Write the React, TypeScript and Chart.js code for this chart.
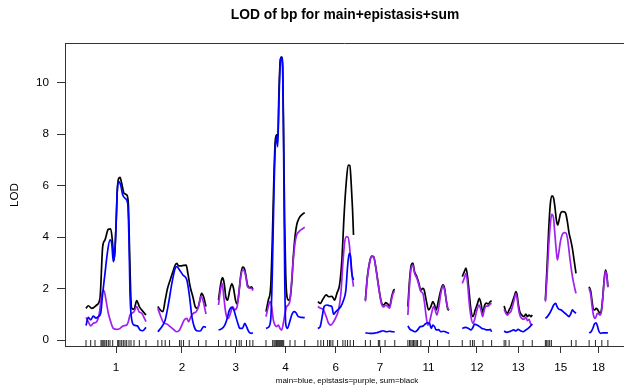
import React, { useEffect, useRef } from 'react';
import { Chart, registerables } from 'chart.js';

Chart.register(...registerables);

const chromosomes = ['1', '2', '3', '4', '6', '7', '11', '12', '13', '15', '18'];
const chromStart = [0, 115, 212, 288, 371, 447, 515, 602, 669, 735, 805];
const chromLength = [96, 77, 55, 62, 57, 47, 66, 47, 45, 49, 30];
const yTicks = [0, 2, 4, 6, 8, 10];

// main effect LOD (blue): [position cM, LOD] per chromosome
const mainLod: number[][][] = [
  [[0,0.56],[3.7,0.88],[7.5,0.78],[11.7,0.93],[16,0.85],[19.7,0.91],[23.5,1.04],[26.7,1.81],[30.4,2.59],[34.1,3.37],[38.4,3.89],[41.1,3.76],[43.7,3.04],[45.9,3.37],[48,4.4],[50.1,5.83],[52.3,6.15],[55.5,6.02],[58.7,5.64],[62.4,5.51],[66.7,5.31],[68.8,3.89],[70.4,1.81],[72.5,0.91],[76.8,0.58],[82.1,0.55],[86.4,0.39],[90.7,0.36],[96,0.49]],
  [[0,0.32],[6.4,0.52],[11.7,0.78],[17.1,1.43],[22.4,2.2],[27.7,2.79],[30.4,2.85],[34.7,2.72],[40,2.53],[46.4,2.33],[50.7,1.68],[54.4,0.91],[58.1,0.52],[62.4,0.36],[67.7,0.35],[73.1,0.52],[77,0.49]],
  [[0,0.39],[4.8,0.43],[10.1,0.58],[13.9,0.84],[17.1,1.14],[20.8,1.27],[24.5,1.17],[27.7,0.91],[30.9,0.65],[34.1,0.45],[38.4,0.45],[42.1,0.65],[44.8,0.52],[48.5,0.32],[52.8,0.26],[55,0.28]],
  [[0,0.45],[3.7,0.49],[7.5,0.78],[10.1,2.59],[12.8,5.83],[14.9,7.51],[17.1,7.9],[18.7,7.51],[20.8,9.33],[22.9,10.82],[24.5,10.99],[26.7,10.56],[28.3,7.12],[29.9,2.59],[31.5,0.65],[34.1,0.45],[37.3,0.65],[41.1,0.97],[44.8,1.1],[48,1.06],[51.7,0.91],[57.1,0.88],[62,0.87]],
  [[0,0.45],[3.7,0.52],[6.9,0.91],[10.1,1.3],[14.4,1.36],[18.7,1.33],[22.4,1.3],[25.1,1.0],[28.8,1.1],[33.1,1.2],[36.8,1.3],[41.1,1.55],[44.8,1.94],[47.5,2.85],[50.1,3.37],[52.3,3.24],[54.4,2.59],[57,2.33]],
  [[0,0.28],[6.9,0.26],[12.3,0.26],[17.6,0.28],[22.9,0.32],[28.3,0.36],[33.6,0.32],[38.9,0.34],[44.3,0.32],[47,0.31]],
  [[0,0.54],[3.7,0.41],[8,0.36],[11.7,0.32],[15.5,0.39],[19.7,0.52],[24,0.54],[27.7,0.62],[31.5,0.67],[34.7,0.65],[37.3,0.45],[40,0.58],[42.7,0.52],[45.3,0.39],[49.1,0.4],[52.8,0.32],[57.1,0.34],[61.3,0.3],[66,0.26]],
  [[0,0.45],[4.8,0.49],[10.1,0.45],[13.9,0.39],[17.1,0.49],[19.7,0.62],[23.5,0.58],[27.7,0.52],[31.5,0.45],[35.2,0.43],[38.4,0.39],[42.1,0.39],[44.8,0.41],[47,0.32]],
  [[0,0.35],[3.7,0.3],[8,0.32],[11.7,0.36],[15.5,0.39],[18.7,0.35],[22.4,0.41],[26.1,0.36],[30.4,0.32],[34.7,0.39],[38.4,0.45],[42.1,0.54],[45,0.62]],
  [[0,0.84],[3.2,0.91],[6.9,1.04],[10.1,1.19],[13.3,1.36],[16.5,1.42],[18.7,1.3],[21.9,1.19],[25.1,1.17],[28.3,1.1],[31.5,1.04],[34.7,0.97],[37.9,0.91],[40.5,1.01],[43.2,1.17],[45.9,1.1],[49,1.04]],
  [[0,0.28],[3.2,0.32],[5.9,0.45],[8.5,0.62],[11.2,0.67],[13.3,0.54],[15.5,0.35],[18.1,0.26],[21.9,0.28],[25.6,0.28],[30,0.28]],
];

// epistasis LOD (purple)
const epistasisLod: number[][][] = [
  [[0,0.88],[3.7,0.71],[7.5,0.55],[11.7,0.65],[17.1,0.71],[21.3,1.04],[25.6,1.81],[28.8,1.92],[32,1.55],[35.7,1.04],[39.5,0.71],[43.7,0.45],[49.1,0.41],[54.4,0.45],[59.7,0.55],[65.1,0.58],[67.7,0.71],[70.4,0.97],[73.1,1.04],[76.8,1.1],[81.1,1.3],[84.8,1.1],[89.1,1.04],[96,0.71]],
  [[0,1.23],[3.7,0.97],[9.1,0.67],[14.4,0.62],[19.7,0.52],[25.1,0.41],[30.4,0.32],[34.7,0.39],[38.4,0.58],[42.1,0.78],[46.4,0.84],[49.1,0.71],[52.8,0.91],[57.1,1.04],[61.3,1.1],[65.1,1.3],[68.8,1.68],[72,1.55],[77,1.01]],
  [[0,1.36],[3.2,1.94],[5.9,2.2],[8.5,1.68],[11.7,1.04],[15.5,0.84],[19.2,1.04],[22.4,1.3],[26.1,1.17],[29.9,1.3],[33.1,1.94],[35.7,2.46],[38.4,2.72],[41.1,2.69],[43.7,2.46],[46.4,2.07],[50.1,2.01],[52.8,2.01],[55,1.92]],
  [[0,0.91],[3.7,1.3],[6.4,1.49],[9.1,1.3],[11.7,0.78],[14.4,0.58],[17.1,0.52],[19.7,0.58],[22.4,0.45],[25.1,0.39],[27.7,0.65],[30.4,1.04],[33.1,1.3],[35.7,1.36],[38.4,1.55],[41.1,2.33],[43.7,3.11],[46.4,3.76],[49.1,4.08],[52.8,4.21],[57.1,4.3],[62,4.38]],
  [[0,1.3],[4.8,1.23],[9.1,1.17],[13.3,0.91],[17.1,0.65],[20.8,0.58],[25.1,0.71],[29.3,0.91],[33.1,1.17],[36.8,1.81],[40,2.98],[42.7,3.76],[45.3,4.01],[48,4.0],[50.7,3.63],[52.8,2.98],[54.9,2.46],[57,2.07]],
  [[0,1.5],[3.2,2.42],[6.9,3.02],[10.1,3.24],[13.3,3.22],[16.5,2.83],[19.7,2.3],[22.9,1.78],[26.1,1.38],[29.3,1.28],[32.5,1.36],[35.7,1.3],[38.9,1.24],[42.1,1.6],[45.3,1.86],[47,1.88]],
  [[0,0.97],[2.7,2.14],[5.3,2.79],[8,2.91],[10.7,2.59],[14.4,2.4],[17.6,2.14],[20.8,1.88],[24,1.81],[26.7,1.43],[29.3,0.91],[32,0.58],[34.7,0.71],[37.9,1.04],[41.1,1.3],[43.7,1.17],[46.4,0.97],[49.6,1.3],[52.8,1.81],[56,2.1],[58.7,1.94],[61.3,1.55],[64,1.23],[66,1.17]],
  [[0,2.2],[3.2,2.4],[5.9,2.59],[8.5,2.2],[11.2,1.43],[13.9,0.91],[17.1,0.65],[20.3,0.84],[23.5,1.17],[26.7,1.36],[29.9,1.17],[32.5,0.91],[35.2,1.17],[38.4,1.32],[41.6,1.32],[44.8,1.4],[47,1.43]],
  [[0,1.19],[2.7,1.04],[5.3,0.97],[8,1.04],[10.7,1.1],[13.3,1.3],[16,1.55],[18.7,1.79],[20.8,1.62],[22.9,1.23],[25.1,0.97],[28.3,0.84],[31.5,0.8],[34.7,0.88],[37.3,0.75],[40,0.8],[42.1,0.65],[45,0.58]],
  [[0,1.49],[2.7,2.46],[5.3,3.63],[8,4.53],[10.1,4.88],[12.8,4.77],[14.9,4.21],[17.1,3.56],[19.2,3.11],[21.3,3.37],[24,3.82],[26.7,4.08],[29.9,4.17],[33.1,4.15],[35.7,3.89],[38.9,3.24],[42.1,2.65],[45.3,2.2],[49,1.81]],
  [[0,2.01],[2.7,1.75],[4.8,1.3],[6.9,0.97],[9.1,0.84],[11.2,0.91],[13.3,1.04],[15.5,1.01],[17.6,0.97],[19.7,1.1],[21.9,1.62],[24,2.27],[26.1,2.66],[28.3,2.49],[30,2.05]],
];

// sum LOD (black)
const sumLod: number[][][] = [
  [[0,1.23],[3.7,1.33],[9.1,1.23],[17.1,1.36],[22.4,1.63],[26.7,3.63],[30.4,3.89],[35.7,4.3],[39.5,4.32],[42.1,3.89],[43.7,3.38],[45.3,3.11],[48,4.4],[50.1,5.83],[52.3,6.28],[54.4,6.32],[57.1,6.09],[60.8,5.7],[65.1,5.64],[67.7,5.31],[69.3,3.89],[71.5,1.81],[73.1,1.23],[76.8,1.19],[81.1,1.53],[85.3,1.3],[89.1,1.17],[96,0.97]],
  [[0,1.3],[3.7,1.17],[8,1.1],[11.7,1.55],[15.5,2.01],[19.7,2.33],[24,2.65],[27.7,2.91],[30.4,2.98],[33.1,2.88],[36.8,2.88],[41.1,2.9],[45.3,2.91],[48,2.59],[51.7,2.07],[56,1.68],[59.7,1.3],[63.5,1.23],[66.7,1.49],[69.9,1.81],[73.1,1.68],[77,1.3]],
  [[0,1.55],[3.7,2.2],[6.4,2.42],[9.1,2.2],[11.7,1.68],[14.4,1.55],[18.1,1.94],[21.3,2.18],[24,2.01],[27.2,1.55],[29.9,1.4],[33.1,1.94],[35.7,2.53],[38.4,2.83],[41.1,2.79],[43.7,2.53],[46.4,2.14],[50.1,2.04],[52.8,2.07],[55,1.97]],
  [[0,1.1],[3.7,1.55],[7.5,2.07],[10.1,3.89],[12.8,6.48],[14.9,7.77],[17.1,7.97],[18.7,7.7],[20.8,9.72],[22.9,10.88],[25.1,10.99],[26.7,10.62],[28.3,7.77],[29.9,4.53],[31.5,2.59],[33.6,1.68],[36.3,1.55],[38.4,1.61],[41.1,2.2],[43.7,3.24],[46.4,4.01],[49.1,4.47],[52.8,4.73],[57.1,4.86],[62,4.95]],
  [[0,1.49],[3.7,1.42],[8,1.58],[13.3,1.75],[17.6,1.68],[22.4,1.7],[26.7,1.55],[30.4,1.81],[34.7,2.14],[38.4,3.11],[42.1,4.92],[45.3,6.09],[48.5,6.8],[51.2,6.78],[53.3,6.09],[55.5,5.05],[57,4.08]],
  [[0,1.55],[3.2,2.46],[6.9,3.04],[10.1,3.26],[13.3,3.24],[16.5,2.85],[19.7,2.33],[22.9,1.81],[26.1,1.43],[29.3,1.36],[32.5,1.45],[35.7,1.4],[38.9,1.32],[42.1,1.68],[45.3,1.94],[47,1.97]],
  [[0,1.3],[2.7,2.33],[5.3,2.91],[8,2.99],[10.7,2.65],[14.4,2.46],[17.6,2.2],[20.8,1.94],[24,2.01],[26.1,1.94],[29.3,1.55],[33.1,1.17],[36.8,1.3],[40,1.49],[42.7,1.36],[45.3,1.17],[49.1,1.55],[52.8,1.94],[56,2.14],[58.7,2.01],[61.3,1.55],[64,1.19],[66,1.17]],
  [[0,2.46],[3.2,2.65],[5.9,2.79],[8.5,2.46],[11.2,1.81],[13.9,1.17],[17.1,0.91],[20.8,1.17],[24.5,1.43],[27.2,1.62],[29.9,1.43],[33.1,1.04],[35.2,1.3],[38.4,1.43],[41.6,1.4],[44.8,1.49],[47,1.53]],
  [[0,1.32],[2.7,1.1],[5.3,1.04],[8,1.17],[10.7,1.3],[13.3,1.49],[16,1.68],[18.7,1.88],[20.8,1.75],[22.9,1.36],[25.1,1.1],[28.3,0.97],[31.5,0.91],[34.7,1.01],[37.3,0.91],[40,0.97],[42.7,0.91],[45,0.97]],
  [[0,1.55],[2.7,2.85],[5.3,4.28],[8,5.31],[10.7,5.6],[13.3,5.5],[15.5,5.12],[17.6,4.66],[19.7,4.47],[21.9,4.66],[24,4.9],[26.7,4.99],[29.9,4.98],[32.5,4.92],[35.2,4.6],[37.9,4.15],[40.5,3.89],[43.2,3.56],[45.9,3.11],[49,2.59]],
  [[0,2.07],[2.7,1.88],[4.8,1.49],[6.9,1.19],[9.1,1.17],[11.2,1.23],[13.3,1.19],[15.5,1.1],[17.6,1.04],[19.7,1.17],[21.9,1.68],[24,2.33],[26.1,2.72],[28.3,2.53],[30,2.07]],
];

// genetic marker positions (cM) per chromosome
const markers: number[][] = [
  [0,7.5,14.4,24,25.6,27.2,28.8,30.4,33,35.7,38.4,42.7,50.7,52.3,54.4,57.1,59.7,62.4,65.1,68.8,72,76.8,85.3,96],
  [0,6.4,11.7,18.7,34.7,37.3,41.1,50.1,65.1,77],
  [0,11.7,19.7,28.8,33.1,36.3,44.8,50.1,55],
  [0,10.7,12.8,14.4,16,17.1,18.7,20.3,21.9,23.5,25.1,26.7,28.3,38.4,46.4,62],
  [0,4.8,9.1,15.5,18.7,20.8,24,31.5,40,43.7,47.5,51.7,57],
  [0,8,20.8,22.9,31.5,47],
  [0,2.7,4.8,6.9,9.1,11.2,13.3,15.5,20.8,34.7,47.5,66],
  [0,12.8,16.5,19.2,33.1,47],
  [0,2.7,8,30.4,45],
  [0,2.1,4.3,6.9,9.6,41.6,49],
  [0,10.1,20.3,30],
];

const FONT = "'Liberation Sans', Arial, Helvetica, sans-serif";

function toSeries(perChrom: number[][][]) {
  const pts: { x: number; y: number | null }[] = [];
  perChrom.forEach((pairs, i) => {
    if (i > 0) pts.push({ x: chromStart[i] - 8, y: null });
    pairs.forEach(([p, v]) => pts.push({ x: chromStart[i] + p, y: v }));
  });
  return pts;
}

export default function App() {
  const ref = useRef<HTMLCanvasElement | null>(null);

  useEffect(() => {
    if (!ref.current) return;
    const rugY = -0.117;
    const rug: { x: number; y: number }[] = [];
    markers.forEach((ms, i) => ms.forEach((m) => rug.push({ x: chromStart[i] + m, y: rugY })));

    const textPlugin = {
      id: 'texts',
      afterDraw(chart: any) {
        const { ctx, chartArea } = chart;
        ctx.save();
        ctx.strokeStyle = '#333';
        ctx.lineWidth = 1;
        ctx.beginPath();
        ctx.moveTo(chartArea.left, chartArea.top + 0.5);
        ctx.lineTo(chartArea.right, chartArea.top + 0.5);
        ctx.stroke();
        ctx.fillStyle = '#000';
        ctx.textAlign = 'center';
        ctx.textBaseline = 'alphabetic';
        ctx.font = `bold 13.8px ${FONT}`;
        ctx.fillText('LOD of bp for main+epistasis+sum', 345, 18.5);
        ctx.font = `8px ${FONT}`;
        ctx.textBaseline = 'middle';
        ctx.fillText('main=blue, epistasis=purple, sum=black', 347, 381);
        ctx.translate(15, 195);
        ctx.rotate(-Math.PI / 2);
        ctx.font = `11.7px ${FONT}`;
        ctx.fillText('LOD', 0, 0);
        ctx.restore();
      },
    };

    const lineStyle = { borderWidth: 1.7, pointRadius: 0, spanGaps: false, cubicInterpolationMode: 'monotone' as const };

    const chart = new Chart(ref.current, {
      type: 'line',
      data: {
        datasets: [
          { label: 'main', data: toSeries(mainLod), borderColor: '#0000ff', ...lineStyle },
          { label: 'epistasis', data: toSeries(epistasisLod), borderColor: '#a020f0', ...lineStyle },
          { label: 'sum', data: toSeries(sumLod), borderColor: '#000000', ...lineStyle },
          {
            type: 'scatter', label: 'markers', data: rug, showLine: false,
            pointStyle: 'line', rotation: 90, radius: 3, pointRadius: 3,
            borderColor: '#222', pointBorderColor: '#222', pointBorderWidth: 1, borderWidth: 1,
          } as any,
        ],
      },
      options: {
        animation: false,
        responsive: false,
        events: [],
        layout: { autoPadding: false, padding: { top: 43, right: 0, left: 0, bottom: 0 } },
        plugins: { legend: { display: false }, tooltip: { enabled: false }, title: { display: false } },
        scales: {
          x: {
            type: 'linear',
            min: -33.6,
            max: 860.8,
            afterFit: (s: any) => { s.height = 41; },
            afterBuildTicks: (s: any) => {
              s.ticks = chromosomes.map((_, i) => ({ value: chromStart[i] + chromLength[i] / 2 }));
            },
            ticks: {
              autoSkip: false, maxRotation: 0, padding: 8, color: '#000',
              font: { family: FONT, size: 11.7 },
              callback: (_v: any, i: number) => chromosomes[i],
            },
            grid: { display: true, drawOnChartArea: false, drawTicks: true, tickLength: 7, color: '#333' },
            border: { display: true, color: '#333', width: 1 },
          },
          y: {
            type: 'linear',
            min: -0.233,
            max: 11.54,
            afterFit: (s: any) => { s.width = 65; },
            afterBuildTicks: (s: any) => { s.ticks = yTicks.map((v) => ({ value: v })); },
            ticks: { padding: 8, color: '#000', font: { family: FONT, size: 11.7 } },
            grid: { display: true, drawOnChartArea: false, drawTicks: true, tickLength: 8, color: '#333' },
            border: { display: true, color: '#333', width: 1 },
          },
        },
      },
      plugins: [textPlugin],
    });
    return () => chart.destroy();
  }, []);

  return (
    <div style={{ position: 'absolute', left: 0, top: 0, width: 624, height: 387, background: '#fff' }}>
      <canvas ref={ref} width={624} height={387} style={{ width: 624, height: 387 }} />
    </div>
  );
}
